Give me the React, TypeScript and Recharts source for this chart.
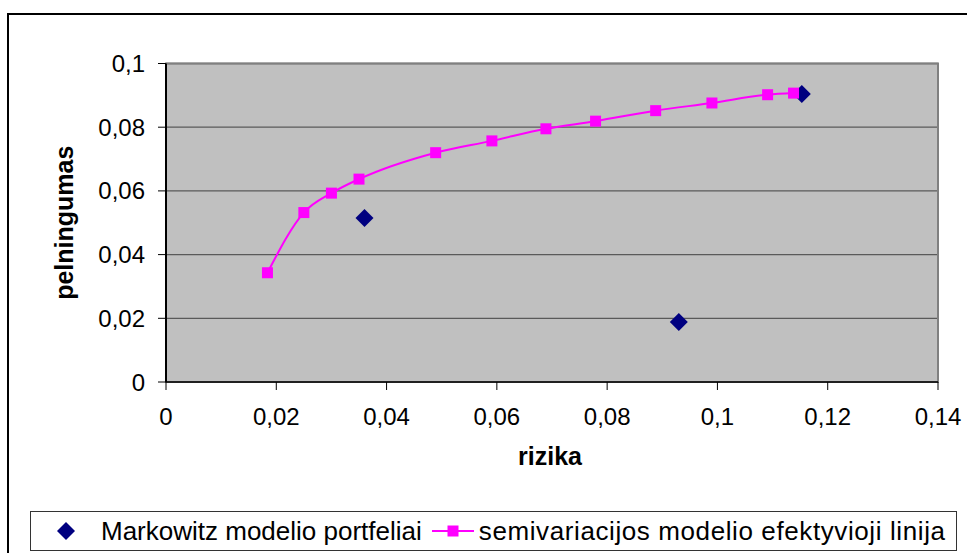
import React from "react";
import {
  ComposedChart,
  Line,
  Scatter,
  XAxis,
  YAxis,
  CartesianGrid,
  ReferenceArea,
} from "recharts";

// semivariacijos modelio efektyvioji linija (rizika / pelningumas)
const lineRisk = [0.0184, 0.025, 0.03, 0.035, 0.0489, 0.0591, 0.0689, 0.0779, 0.0888, 0.099, 0.1091, 0.1138];
const lineReturn = [0.0343, 0.0532, 0.0593, 0.0637, 0.072, 0.0757, 0.0795, 0.0819, 0.0852, 0.0876, 0.0902, 0.0907];

// Markowitz modelio portfeliai
const markowitzRisk = [0.036, 0.093, 0.1153];
const markowitzReturn = [0.0515, 0.0188, 0.0904];

const xTicks = [0, 0.02, 0.04, 0.06, 0.08, 0.1, 0.12, 0.14];
const yTicks = [0, 0.02, 0.04, 0.06, 0.08, 0.1];

const lineData = lineRisk.map((x, i) => ({ x, y: lineReturn[i] }));
const markowitzData = markowitzRisk.map((x, i) => ({ x, y: markowitzReturn[i] }));

const FONT = '"Liberation Sans", Arial, sans-serif';
const PINK = "#FF00FF";
const NAVY = "#000080";

const fmt = (v: number) => String(v).replace(".", ",");

const SquareDot = (props: any) => {
  const { cx, cy, index } = props;
  if (cx == null || cy == null) return null;
  return <rect key={`sq-${index}`} x={cx - 5.5} y={cy - 5.5} width={11} height={11} fill={PINK} />;
};

const Diamond = (props: any) => {
  const { cx, cy } = props;
  const r = 9;
  return (
    <polygon
      points={`${cx},${cy - r} ${cx + r},${cy} ${cx},${cy + r} ${cx - r},${cy}`}
      fill={NAVY}
    />
  );
};

export default function App() {
  const tickStyle = { fontFamily: FONT, fontSize: 24, fill: "#000" };

  return (
    <div
      style={{
        position: "fixed",
        left: 0,
        top: 0,
        width: 967,
        height: 553,
        overflow: "hidden",
        background: "#fff",
        fontFamily: FONT,
      }}
    >
      {/* outer chart frame */}
      <div
        style={{
          position: "absolute",
          left: 7,
          top: 13,
          width: 1000,
          height: 600,
          borderLeft: "2px solid #000",
          borderTop: "2px solid #000",
        }}
      />

      <div style={{ position: "absolute", left: 0, top: 0 }}>
        <ComposedChart
          width={967}
          height={553}
          margin={{ top: 63.5, right: 29, left: 0, bottom: 71 }}
        >
          <CartesianGrid
            vertical={false}
            fill="#C0C0C0"
            fillOpacity={1}
            stroke="#5a5a5a"
            strokeWidth={1.3}
          />
          <ReferenceArea
            x1={0}
            x2={0.14}
            y1={0}
            y2={0.1}
            fill="none"
            stroke="#808080"
            strokeWidth={2}
            ifOverflow="visible"
          />
          <XAxis
            type="number"
            dataKey="x"
            domain={[0, 0.14]}
            ticks={xTicks}
            tickFormatter={fmt}
            height={100}
            tickSize={8}
            tickMargin={18}
            tick={tickStyle}
            axisLine={{ stroke: "#000", strokeWidth: 1.5 }}
            tickLine={{ stroke: "#000" }}
            interval={0}
            label={(p: any) => {
              const vb = p.viewBox;
              return (
                <text
                  x={vb.x + vb.width / 2 - 2}
                  y={vb.y + 83}
                  textAnchor="middle"
                  fontFamily={FONT}
                  fontSize={25}
                  fontWeight="bold"
                  fill="#000"
                >
                  rizika
                </text>
              );
            }}
          />
          <YAxis
            type="number"
            dataKey="y"
            domain={[0, 0.1]}
            ticks={yTicks}
            tickFormatter={fmt}
            width={166}
            tickSize={8}
            tickMargin={13}
            tick={tickStyle}
            axisLine={{ stroke: "#000", strokeWidth: 2 }}
            tickLine={{ stroke: "#000" }}
            interval={0}
            label={(p: any) => {
              const vb = p.viewBox;
              const cy = vb.y + vb.height / 2;
              return (
                <text
                  x={73}
                  y={cy}
                  transform={`rotate(-90, 73, ${cy})`}
                  textAnchor="middle"
                  fontFamily={FONT}
                  fontSize={25}
                  fontWeight="bold"
                  fill="#000"
                >
                  pelningumas
                </text>
              );
            }}
          />
          <Scatter
            data={markowitzData}
            dataKey="y"
            fill={NAVY}
            shape={<Diamond />}
            isAnimationActive={false}
          />
          <Line
            data={lineData}
            dataKey="y"
            type="monotone"
            stroke={PINK}
            strokeWidth={2}
            dot={SquareDot}
            activeDot={false}
            isAnimationActive={false}
          />
        </ComposedChart>
      </div>

      {/* legend */}
      <div
        style={{
          position: "absolute",
          left: 30,
          top: 511,
          width: 927,
          height: 40,
          boxSizing: "border-box",
          border: "1.5px solid #333",
          display: "flex",
          alignItems: "center",
          fontSize: 26,
          color: "#000",
          whiteSpace: "nowrap",
        }}
      >
        <svg width={18} height={18} style={{ marginLeft: 26, flex: "none" }}>
          <polygon points="9,0 18,9 9,18 0,9" fill={NAVY} />
        </svg>
        <span style={{ marginLeft: 26 }}>Markowitz modelio portfeliai</span>
        <svg width={42} height={14} style={{ marginLeft: 10, flex: "none" }}>
          <line x1={0} y1={7} x2={42} y2={7} stroke={PINK} strokeWidth={2} />
          <rect x={15.5} y={1.5} width={11} height={11} fill={PINK} />
        </svg>
        <span style={{ marginLeft: 5, letterSpacing: 0.6 }}>
          semivariacijos modelio efektyvioji linija
        </span>
      </div>
    </div>
  );
}
